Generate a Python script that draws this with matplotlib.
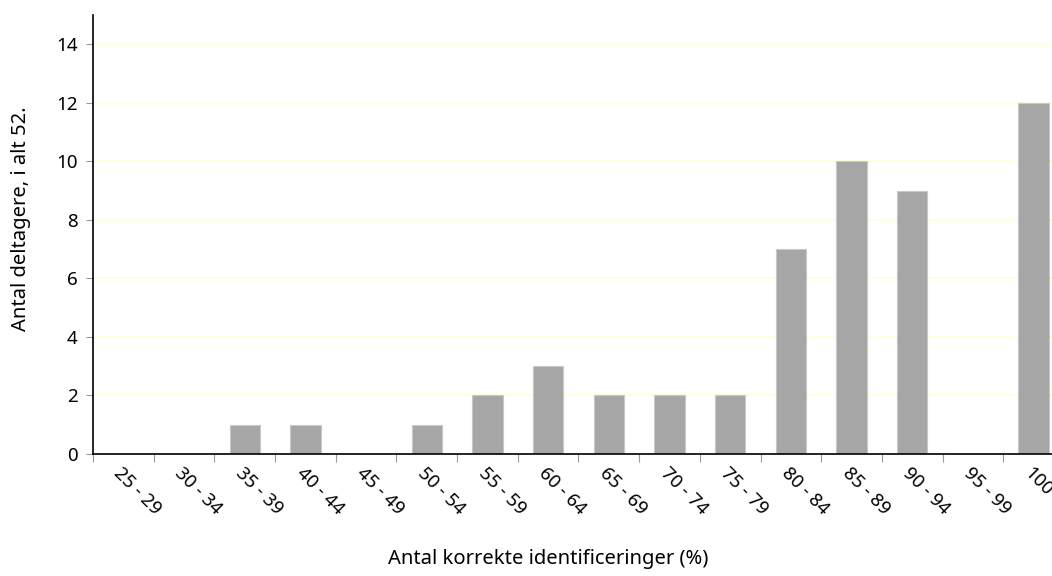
import numpy as np
import matplotlib
matplotlib.use("Agg")
import matplotlib.pyplot as plt

categories = ["25 - 29", "30 - 34", "35 - 39", "40 - 44", "45 - 49", "50 - 54",
              "55 - 59", "60 - 64", "65 - 69", "70 - 74", "75 - 79", "80 - 84",
              "85 - 89", "90 - 94", "95 - 99", "100"]
counts = [0, 0, 1, 1, 0, 1, 2, 3, 2, 2, 2, 7, 10, 9, 0, 12]

plt.rcParams['font.family'] = ['Noto Sans', 'DejaVu Sans']

fig = plt.figure(figsize=(10.52, 5.76), dpi=100)
ax = fig.add_axes([0.0884, 0.2118, 0.923, 0.762])

x = np.arange(len(categories))
ax.bar(x, counts, width=0.5, color='#a6a6a6', edgecolor='#c8c8c8', linewidth=0.8, zorder=3)

ax.set_xlim(-0.5, len(categories) - 0.5)
ax.set_ylim(0, 15)
ax.set_yticks(np.arange(0, 15, 2))
ax.yaxis.grid(True, color='#ffffd8', linewidth=1.2, zorder=0)

# ticks at category boundaries, labels at centres
ax.set_xticks(np.arange(len(categories) + 1) - 0.5)
ax.set_xticklabels([])
ax.set_xticks(x, minor=True)
ax.set_xticklabels(categories, minor=True, rotation=-45, ha='left', va='top',
                   rotation_mode='anchor', fontsize=13.5)
ax.tick_params(axis='x', which='minor', length=0, pad=7)
ax.tick_params(axis='x', which='major', length=6, color='#999999')
ax.tick_params(axis='y', length=5, color='#999999', labelsize=13.5, pad=6)

for s in ['top', 'right']:
    ax.spines[s].set_visible(False)
ax.spines['left'].set_linewidth(1.2)
ax.spines['bottom'].set_linewidth(1.2)
ax.spines['bottom'].set_zorder(4)

ax.set_ylabel('Antal deltagere, i alt 52.', fontsize=14.5)
ax.yaxis.set_label_coords(-0.064, 0.537)
ax.set_xlabel('Antal korrekte identificeringer (%)', fontsize=14.5)
ax.xaxis.set_label_coords(0.4686, -0.216)

fig.savefig('out.png', dpi=100)
